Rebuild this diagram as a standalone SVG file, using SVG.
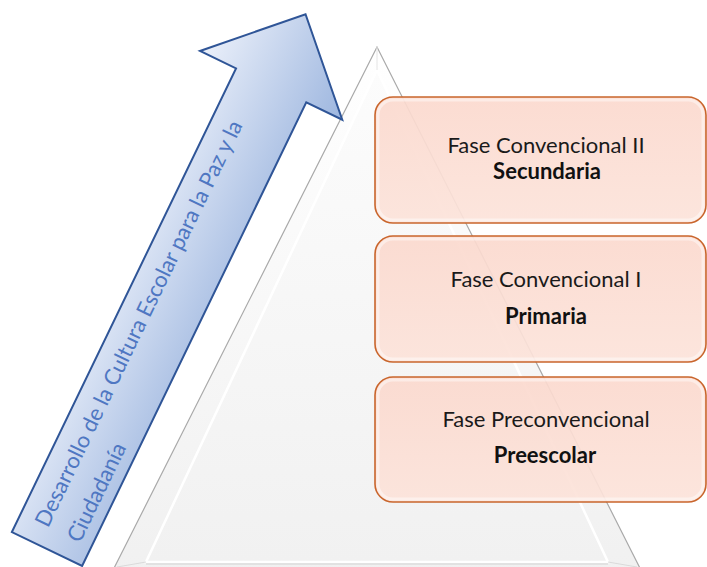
<svg xmlns="http://www.w3.org/2000/svg" width="707" height="567" viewBox="0 0 707 567">
  <defs>
    <linearGradient id="triFill" x1="0" y1="0" x2="0" y2="1">
      <stop offset="0" stop-color="#FFFFFF"/>
      <stop offset="1" stop-color="#F0F0F0"/>
    </linearGradient>
    <linearGradient id="triInner" x1="0" y1="0" x2="0" y2="1">
      <stop offset="0" stop-color="#FCFCFC"/>
      <stop offset="1" stop-color="#F1F1F1"/>
    </linearGradient>
    <linearGradient id="arrowFill" gradientUnits="userSpaceOnUse" x1="0" y1="-79" x2="0" y2="79">
      <stop offset="0" stop-color="#EBF0FA"/>
      <stop offset="1" stop-color="#9DB6DF"/>
    </linearGradient>
    <linearGradient id="boxFill" x1="0" y1="0" x2="0" y2="1">
      <stop offset="0" stop-color="#FBD9CE" stop-opacity="0.92"/>
      <stop offset="1" stop-color="#FCE3DA" stop-opacity="0.92"/>
    </linearGradient>
  </defs>
  <style>
    .box { fill: url(#boxFill); stroke: #C9652C; stroke-width: 1.6; }
    .boxIn { fill: none; stroke: #FFFFFF; stroke-opacity: 0.45; stroke-width: 3; }
    .lbl { font-family: Lato, "Liberation Sans", sans-serif; font-size: 22px; fill: #1A1A1A; text-anchor: middle; }
    .lblb { font-family: Lato, "Liberation Sans", sans-serif; font-size: 22px; font-weight: bold; fill: #111111; text-anchor: middle; }
    .atext { font-family: Lato, "Liberation Sans", sans-serif; font-size: 22px; fill: #4F77C2; }
  </style>
  <rect x="0" y="0" width="707" height="567" fill="#FFFFFF"/>

  <g id="pyramid">
    <polygon points="377,47 103,590 651,590" fill="url(#triFill)" stroke="#A9A9A9" stroke-width="1.2"/>
    <polygon points="377,70 146,562 608,562" fill="url(#triInner)" stroke="#FFFFFF" stroke-width="2.5"/>
    <line x1="377" y1="47" x2="377" y2="70" stroke="#E4E4E4" stroke-width="1"/>
    <line x1="117" y1="567" x2="146" y2="562" stroke="#DADADA" stroke-width="1"/>
    <line x1="637" y1="567" x2="608" y2="562" stroke="#DADADA" stroke-width="1"/>
    <line x1="146" y1="564" x2="608" y2="564" stroke="#E2E2E2" stroke-width="2"/>
  </g>

  <g id="arrow" transform="translate(47,549) rotate(-64.2)">
    <polygon points="0,-39 515,-39 515,-79 594,0 515,79 515,39 0,39" fill="url(#arrowFill)" stroke="#2F5597" stroke-width="2" stroke-linejoin="miter"/>
    <text class="atext" x="19" y="-8">Desarrollo de la Cultura Escolar para la Paz y la</text>
    <text class="atext" x="19" y="27.5">Ciudadanía</text>
  </g>

  <g id="box-secundaria">
    <rect class="box" x="375" y="97" width="331" height="126" rx="18"/>
    <rect class="boxIn" x="378" y="100" width="325" height="120" rx="15"/>
    <text class="lbl" x="546" y="153">Fase Convencional II</text>
    <text class="lblb" x="547" y="179">Secundaria</text>
  </g>

  <g id="box-primaria">
    <rect class="box" x="375" y="236" width="331" height="126" rx="18"/>
    <rect class="boxIn" x="378" y="239" width="325" height="120" rx="15"/>
    <text class="lbl" x="546" y="287">Fase Convencional I</text>
    <text class="lblb" x="546" y="324">Primaria</text>
  </g>

  <g id="box-preescolar">
    <rect class="box" x="375" y="377" width="331" height="125" rx="18"/>
    <rect class="boxIn" x="378" y="380" width="325" height="119" rx="15"/>
    <text class="lbl" x="546" y="427">Fase Preconvencional</text>
    <text class="lblb" x="545" y="463">Preescolar</text>
  </g>

  <g id="connectors"/>
</svg>
